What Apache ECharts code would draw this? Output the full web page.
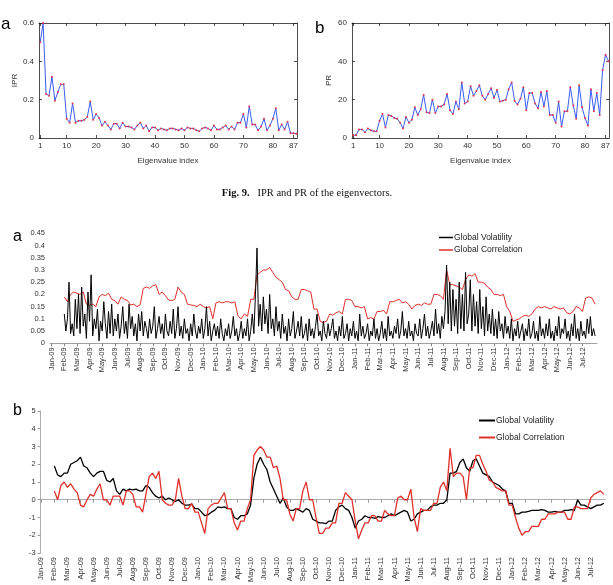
<!DOCTYPE html>
<html><head><meta charset="utf-8">
<script src="https://cdn.jsdelivr.net/npm/echarts@6/dist/echarts.min.js"></script>
<style>html,body{margin:0;padding:0;background:#fff}#c{width:613px;height:585px}</style>
</head><body><div id="c"></div>
<script>
// ---------- Fig. 9 data ----------
const eigIndexTicks = [1,10,20,30,40,50,60,70,80,87];
const iprValues = [0.5,0.6,0.23,0.22,0.32,0.195,0.24,0.28,0.28,0.1,
  0.08,0.18,0.08,0.09,0.09,0.095,0.11,0.19,0.095,0.125,
  0.105,0.065,0.085,0.065,0.045,0.075,0.075,0.05,0.08,0.06,
  0.06,0.055,0.045,0.065,0.08,0.05,0.065,0.035,0.055,0.055,
  0.04,0.05,0.045,0.04,0.05,0.05,0.045,0.04,0.05,0.04,
  0.055,0.05,0.05,0.04,0.035,0.05,0.055,0.05,0.04,0.065,
  0.045,0.045,0.055,0.065,0.045,0.06,0.045,0.08,0.08,0.125,
  0.055,0.165,0.07,0.07,0.04,0.06,0.1,0.04,0.065,0.1,
  0.155,0.04,0.07,0.045,0.085,0.025,0.025,0.022];
const prValues = [1.5,1.5,4.5,4.5,3,5,4,3.5,3.5,9,
  12.5,5.5,12,11.5,10.5,10,8,5,11,8,
  9.5,16,12,15,22.5,13.5,13,20,13,16.5,
  16.5,17.5,23,14.5,12.5,19,15,29,18,19,
  27,22,24.5,27.5,22,20,23,26,21,25,
  19,19.5,20,25.5,29,19.5,17.5,20.5,26.5,14.5,
  23.5,23.5,18,15.5,24,16.5,24.5,12,12,8,
  19,6,14,14,26.5,17,10,27.5,16,10.5,
  6.5,25.5,14,23.5,12,35.5,43.5,40];

// ---------- time series data (month 0 = Jan-09, series start at Feb-09) ----------
const monthLabels = ['Jan-09','Feb-09','Mar-09','Apr-09','May-09','Jun-09','Jul-09','Aug-09','Sep-09','Oct-09','Nov-09','Dec-09',
  'Jan-10','Feb-10','Mar-10','Apr-10','May-10','Jun-10','Jul-10','Aug-10','Sep-10','Oct-10','Nov-10','Dec-10',
  'Jan-11','Feb-11','Mar-11','Apr-11','May-11','Jun-11','Jul-11','Aug-11','Sep-11','Oct-11','Nov-11','Dec-11',
  'Jan-12','Feb-12','Mar-12','Apr-12','May-12','Jun-12','Jul-12'];
const seriesStartMonth = 1;
const volAStepMonth = 0.125;   // eight readings per month
const seriesStepMonth = 0.25;  // four readings per month
const volA = [
  0.12,0.05,0.1,0.25,0.04,0.08,0.03,0.18, 0.06,0.2,0.04,0.23,0.07,0.12,0.02,0.21,
  0.09,0.28,0.03,0.1,0.06,0.14,0.01,0.09, 0.05,0.17,0.08,0.02,0.13,0.04,0.16,0.03,
  0.1,0.05,0.12,0.02,0.07,0.15,0.04,0.09, 0.02,0.16,0.06,0.11,0.03,0.08,0.01,0.12,
  0.05,0.13,0.03,0.09,0.06,0.02,0.1,0.04, 0.07,0.15,0.02,0.06,0.11,0.04,0.08,0.02,
  0.12,0.05,0.03,0.09,0.04,0.14,0.02,0.06, 0.15,0.03,0.07,0.02,0.1,0.04,0.06,0.01,
  0.08,0.03,0.12,0.05,0.02,0.07,0.04,0.1, 0.02,0.06,0.15,0.03,0.09,0.01,0.05,0.08,
  0.03,0.07,0.02,0.1,0.04,0.01,0.06,0.03, 0.08,0.02,0.05,0.11,0.03,0.06,0.01,0.04,
  0.09,0.02,0.06,0.03,0.1,0.01,0.05,0.12, 0.04,0.2,0.39,0.07,0.16,0.05,0.19,0.08,
  0.14,0.04,0.2,0.06,0.1,0.03,0.15,0.05, 0.09,0.02,0.12,0.04,0.07,0.01,0.1,0.03,
  0.06,0.13,0.02,0.05,0.09,0.03,0.11,0.02, 0.04,0.08,0.01,0.1,0.03,0.06,0.02,0.07,
  0.12,0.03,0.05,0.01,0.09,0.04,0.02,0.08, 0.03,0.06,0.1,0.02,0.05,0.01,0.07,0.03,
  0.11,0.02,0.04,0.08,0.01,0.06,0.03,0.09, 0.02,0.05,0.01,0.12,0.03,0.07,0.02,0.04,
  0.08,0.01,0.05,0.03,0.1,0.02,0.06,0.01, 0.04,0.09,0.02,0.06,0.01,0.11,0.03,0.05,
  0.02,0.07,0.04,0.1,0.02,0.05,0.13,0.03, 0.06,0.02,0.09,0.03,0.05,0.01,0.08,0.04,
  0.03,0.1,0.02,0.06,0.12,0.03,0.07,0.02, 0.05,0.09,0.03,0.14,0.04,0.08,0.02,0.11,
  0.06,0.13,0.32,0.08,0.25,0.05,0.22,0.07, 0.18,0.04,0.25,0.06,0.2,0.05,0.29,0.08,
  0.12,0.26,0.05,0.2,0.07,0.17,0.04,0.22, 0.06,0.15,0.03,0.19,0.05,0.12,0.04,0.14,
  0.03,0.1,0.02,0.13,0.05,0.08,0.02,0.11, 0.04,0.07,0.02,0.1,0.01,0.06,0.03,0.09,
  0.02,0.05,0.08,0.01,0.06,0.03,0.1,0.02, 0.04,0.09,0.02,0.05,0.01,0.11,0.03,0.06,
  0.02,0.08,0.03,0.1,0.02,0.05,0.01,0.07, 0.03,0.11,0.02,0.06,0.04,0.1,0.02,0.05,
  0.01,0.08,0.03,0.12,0.02,0.06,0.01,0.09, 0.03,0.05,0.02,0.1,0.04,0.11,0.03,0.06,
  0.03];
const corrA = [0.19,0.17,0.2,0.21, 0.205,0.2,0.21,0.16, 0.155,0.16,0.15,0.19, 0.2,0.195,0.205,0.18,
  0.175,0.16,0.19,0.18, 0.175,0.157,0.16,0.15, 0.157,0.225,0.23,0.225, 0.235,0.24,0.2,0.21,
  0.195,0.177,0.175,0.18, 0.23,0.21,0.2,0.16, 0.157,0.155,0.15,0.16, 0.15,0.145,0.15,0.1,
  0.165,0.17,0.165,0.17, 0.17,0.165,0.17,0.11, 0.1,0.12,0.11,0.18, 0.18,0.28,0.29,0.3,
  0.3,0.31,0.29,0.27, 0.26,0.25,0.22,0.215, 0.19,0.18,0.18,0.22, 0.22,0.215,0.21,0.14,
  0.14,0.09,0.085,0.09, 0.12,0.115,0.125,0.13, 0.12,0.18,0.18,0.175, 0.15,0.15,0.145,0.15,
  0.1,0.105,0.1,0.13, 0.13,0.135,0.12,0.17, 0.17,0.175,0.18,0.165, 0.17,0.16,0.14,0.155,
  0.16,0.155,0.165,0.16, 0.16,0.2,0.2,0.195, 0.18,0.3,0.24,0.24, 0.235,0.23,0.22,0.26,
  0.28,0.275,0.285,0.25, 0.25,0.245,0.23,0.22, 0.2,0.2,0.195,0.2, 0.15,0.13,0.09,0.095,
  0.1,0.11,0.115,0.11, 0.12,0.14,0.15,0.145, 0.15,0.145,0.14,0.15, 0.145,0.14,0.145,0.125,
  0.12,0.13,0.15,0.145, 0.13,0.185,0.19,0.185, 0.16];
const volB = [1.9,1.4,1.3,1.5, 1.5,2.0,2.1,2.2, 2.4,1.9,1.8,1.5, 1.3,1.5,1.6,1.6,
  1.1,1.0,1.2,0.5, 0.3,0.6,0.5,0.6, 0.55,0.6,0.5,0.5, 0.8,0.7,0.4,0.2,
  0.1,0.2,0.0,0.1, 0.0,-0.1,0.0,-0.2, -0.3,-0.3,-0.25,-0.5, -0.5,-0.7,-0.9,-0.85,
  -0.7,-0.6,-0.4,-0.45, -0.4,-0.5,-0.5,-1.0, -1.1,-0.9,-0.9,-0.8, -0.3,1.2,2.0,2.4,
  2.0,1.7,1.0,0.6, 0.2,-0.2,0.1,-0.4, -0.6,-0.6,-0.5,-0.6, -0.7,-0.5,-0.6,-1.1,
  -1.2,-1.3,-1.3,-1.35, -1.2,-1.2,-0.6,-0.4, -0.3,-0.5,-0.6,-1.0, -1.6,-1.2,-1.1,-0.9,
  -1.0,-1.0,-1.05,-0.95, -1.0,-1.0,-0.9,-0.8, -0.9,-0.8,-0.7,-0.6, -0.7,-1.2,-1.1,-0.8,
  -0.7,-0.6,-0.6,-0.4, -0.3,-0.3,-0.2,-0.2, 0.0,1.5,1.5,1.6, 2.1,2.3,1.8,1.6,
  2.2,2.3,1.9,1.5, 1.4,1.3,1.0,0.9, 0.8,0.6,0.5,-0.2, -0.2,-0.8,-0.8,-0.7,
  -0.7,-0.65,-0.6,-0.6, -0.6,-0.55,-0.6,-0.7, -0.7,-0.65,-0.7,-0.7, -0.6,-0.6,-0.55,-0.6,
  0.0,-0.3,-0.3,-0.4, -0.5,-0.4,-0.3,-0.3, -0.2];
const corrB = [0.5,0.0,0.8,1.0, 0.7,0.9,0.6,0.4, -0.3,-0.4,0.0,0.3, 0.2,0.6,0.9,0.0,
  0.0,-0.3,0.2,0.2, 0.2,-0.3,0.5,0.5, 0.3,-0.4,-0.4,-0.7, 0.3,1.3,1.5,1.2,
  1.6,0.0,-0.2,-0.3, -0.3,0.0,1.2,0.2, -0.5,-0.5,-0.2,-0.7, -0.7,-1.3,-1.9,-0.5,
  -0.3,-0.2,-0.2,0.1, 0.4,-0.5,-0.5,-1.3, -1.7,-1.2,-1.2,-0.5, 0.0,2.5,2.8,3.0,
  2.8,2.4,2.4,1.8, 1.9,1.2,0.0,0.0, -0.8,-1.2,-0.5,-0.5, 0.5,1.0,0.0,0.0,
  -1.0,-1.9,-1.9,-1.6, -1.6,-1.3,-1.3,-0.2, -0.2,0.4,0.2,0.0, -1.2,-2.2,-1.7,-1.3,
  -1.3,-0.9,-0.9,-1.2, -1.2,-0.6,-0.8,-0.9, -0.9,0.1,0.2,0.0, 0.0,0.6,-1.0,-1.8,
  -0.5,-0.6,-0.6,-0.6, -0.2,-0.2,0.7,1.0, 0.5,2.9,1.3,1.5, 1.5,1.3,0.0,1.8,
  1.8,2.5,2.5,2.0, 1.6,1.1,1.0,0.7, 0.6,0.5,0.5,-0.3, -0.3,-1.0,-1.6,-2.0,
  -1.8,-1.8,-1.5,-1.5, -1.5,-1.1,-1.1,-0.8, -0.8,-0.8,-0.7,-0.7, -0.7,-1.1,-1.1,-0.4,
  -0.4,-0.5,-0.5,-0.5, 0.1,0.3,0.4,0.5, 0.3];
const seriesNames = ['Global Volatility','Global Correlation'];

// ---------- build ----------
const FONT = 'Liberation Sans, Arial, Helvetica, sans-serif';
const toXY = (arr, x0, dx) => arr.map((v, i) => [x0 + i * dx, v]);
const eigXY = arr => arr.map((v, i) => [i + 1, v]);
const monthTicks = monthLabels.map((_, i) => i);

const boxAxis = (grid, pos, labels, extra) => Object.assign({
  type: 'value', gridIndex: grid, position: pos,
  axisLine: { show: true, onZero: false, lineStyle: { color: '#222', width: 0.8 } },
  axisTick: { show: true, inside: true, length: 3, lineStyle: { color: '#222', width: 0.8 } },
  axisLabel: { show: labels, color: '#333', fontSize: 8, fontFamily: FONT, margin: 5 },
  splitLine: { show: false }
}, extra);

const eigX = (grid, pos, labels, name) => boxAxis(grid, pos, labels, {
  min: 0.6, max: 88.2,
  axisTick: { show: true, inside: true, length: 3, customValues: eigIndexTicks, lineStyle: { color: '#222', width: 0.8 } },
  axisLabel: { show: labels, customValues: eigIndexTicks, color: '#333', fontSize: 8, fontFamily: FONT, margin: 4 },
  name: name, nameLocation: 'middle', nameGap: 19,
  nameTextStyle: { color: '#333', fontSize: 8, fontFamily: FONT }
});

const monthLabel = { customValues: monthTicks, formatter: v => monthLabels[Math.round(v)], rotate: 90,
  color: '#333', fontSize: 7.5, fontFamily: FONT, margin: 4 };

const chart = echarts.init(document.getElementById('c'), null, { renderer: 'canvas' });
chart.setOption({
  animation: false,
  backgroundColor: '#fff',
  textStyle: { fontFamily: FONT },
  grid: [
    { left: 39, top: 23, width: 258, height: 115 },
    { left: 352, top: 23, width: 259, height: 115 },
    { left: 50, top: 233.3, width: 547, height: 110 },
    { left: 40.6, top: 411, width: 564.5, height: 145 }
  ],
  xAxis: [
    eigX(0, 'bottom', true, 'Eigenvalue index'),
    eigX(1, 'bottom', true, 'Eigenvalue index'),
    eigX(0, 'top', false, ''),
    eigX(1, 'top', false, ''),
    { type: 'value', gridIndex: 2, position: 'bottom', min: -0.13, max: 43.15,
      axisLine: { show: true, onZero: false, lineStyle: { color: '#888', width: 0.8 } },
      axisTick: { show: true, length: 3, customValues: monthTicks, lineStyle: { color: '#888' } },
      axisLabel: monthLabel, splitLine: { show: false } },
    { type: 'value', gridIndex: 3, position: 'bottom', min: -0.05, max: 43.1,
      axisLine: { show: false, onZero: false }, axisTick: { show: false },
      axisLabel: monthLabel, splitLine: { show: false } },
    { type: 'value', gridIndex: 3, position: 'top', min: -0.05, max: 43.1,
      axisLine: { show: true, onZero: true, lineStyle: { color: '#999', width: 0.8 } },
      axisTick: { show: true, inside: true, length: 3, customValues: monthTicks, lineStyle: { color: '#999' } },
      axisLabel: { show: false }, splitLine: { show: false } }
  ],
  yAxis: [
    boxAxis(0, 'left', true, { min: 0, max: 0.6, interval: 0.2, name: 'IPR', nameLocation: 'middle', nameGap: 20,
      nameTextStyle: { color: '#333', fontSize: 8, fontFamily: FONT } }),
    boxAxis(1, 'left', true, { min: 0, max: 60, interval: 20, name: 'PR', nameLocation: 'middle', nameGap: 19,
      nameTextStyle: { color: '#333', fontSize: 8, fontFamily: FONT } }),
    boxAxis(0, 'right', false, { min: 0, max: 0.6, interval: 0.2 }),
    boxAxis(1, 'right', false, { min: 0, max: 60, interval: 20 }),
    { type: 'value', gridIndex: 2, min: 0, max: 0.45, interval: 0.05,
      axisLine: { show: false }, axisTick: { show: false }, splitLine: { show: false },
      axisLabel: { color: '#333', fontSize: 7.5, fontFamily: FONT, margin: 5 } },
    { type: 'value', gridIndex: 3, min: -3, max: 5, interval: 1,
      axisLine: { show: true, onZero: false, lineStyle: { color: '#999', width: 0.8 } },
      axisTick: { show: true, length: 3, lineStyle: { color: '#999' } }, splitLine: { show: false },
      axisLabel: { color: '#333', fontSize: 7.5, fontFamily: FONT, margin: 5 } }
  ],
  legend: [
    { orient: 'vertical', left: 439, top: 233, padding: 0, itemGap: 3.5, itemWidth: 14, itemHeight: 1.5, icon: 'rect',
      data: seriesNames, textStyle: { fontSize: 8.5, color: '#222', fontFamily: FONT, padding: [0, 0, 0, -4] } },
    { orient: 'vertical', left: 479, top: 416, padding: 0, itemGap: 8, itemWidth: 16, itemHeight: 2, icon: 'rect',
      data: seriesNames, textStyle: { fontSize: 8.5, color: '#222', fontFamily: FONT, padding: [0, 0, 0, -4] } }
  ],
  series: [
    { type: 'line', xAxisIndex: 0, yAxisIndex: 0, data: eigXY(iprValues), symbol: 'circle', symbolSize: 2,
      itemStyle: { color: '#e8344a' }, lineStyle: { color: '#3c5cf0', width: 1 } },
    { type: 'line', xAxisIndex: 1, yAxisIndex: 1, data: eigXY(prValues), symbol: 'circle', symbolSize: 2,
      itemStyle: { color: '#e8344a' }, lineStyle: { color: '#3c5cf0', width: 1 } },
    { type: 'line', name: seriesNames[1], xAxisIndex: 4, yAxisIndex: 4, data: toXY(corrA, seriesStartMonth, seriesStepMonth),
      symbol: 'none', color: '#e0302a', lineStyle: { color: '#e0302a', width: 1 } },
    { type: 'line', name: seriesNames[0], xAxisIndex: 4, yAxisIndex: 4, data: toXY(volA, seriesStartMonth, volAStepMonth),
      symbol: 'none', color: '#000', lineStyle: { color: '#000', width: 1 } },
    { type: 'line', name: seriesNames[0], xAxisIndex: 5, yAxisIndex: 5, data: toXY(volB, seriesStartMonth, seriesStepMonth),
      symbol: 'none', color: '#000', lineStyle: { color: '#000', width: 1.3 } },
    { type: 'line', name: seriesNames[1], xAxisIndex: 5, yAxisIndex: 5, data: toXY(corrB, seriesStartMonth, seriesStepMonth),
      symbol: 'none', color: '#e0302a', lineStyle: { color: '#e0302a', width: 1.3 } }
  ],
  graphic: [
    { type: 'text', style: { x: 1, y: 24.5, text: 'a', font: '17px ' + FONT, fill: '#000', textVerticalAlign: 'middle' } },
    { type: 'text', style: { x: 315, y: 28, text: 'b', font: '17px ' + FONT, fill: '#000', textVerticalAlign: 'middle' } },
    { type: 'text', style: { x: 13, y: 236.5, text: 'a', font: '16px ' + FONT, fill: '#000', textVerticalAlign: 'middle' } },
    { type: 'text', style: { x: 13, y: 411, text: 'b', font: '16px ' + FONT, fill: '#000', textVerticalAlign: 'middle' } },
    { type: 'text', style: { x: 307, y: 193, textAlign: 'center', textVerticalAlign: 'middle',
      text: '{b|Fig. 9.}   {n|IPR and PR of the eigenvectors.}',
      rich: { b: { fontFamily: 'Liberation Serif, serif', fontWeight: 'bold', fontSize: 10.5, fill: '#111' },
              n: { fontFamily: 'Liberation Serif, serif', fontSize: 10.5, fill: '#111' } },
      font: '10.5px Liberation Serif' } }
  ]
});
</script></body></html>
